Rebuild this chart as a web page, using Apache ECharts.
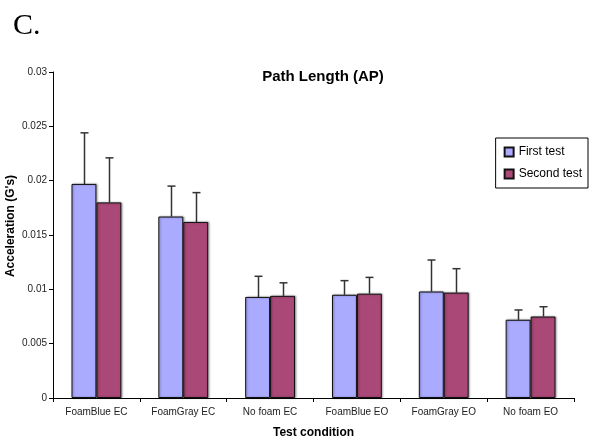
<!DOCTYPE html>
<html>
<head>
<meta charset="utf-8">
<script src="https://cdn.jsdelivr.net/npm/echarts@6/dist/echarts.min.js"></script>
<style>html,body{margin:0;padding:0;background:#fff;}#c{width:589px;height:439px;}</style>
</head>
<body>
<div id="c"></div>
<script>
var categories = ['FoamBlue EC', 'FoamGray EC', 'No foam EC', 'FoamBlue EO', 'FoamGray EO', 'No foam EO'];
var firstTest = [0.0197, 0.0167, 0.0093, 0.0095, 0.0098, 0.0072];
var secondTest = [0.0180, 0.0162, 0.0094, 0.0096, 0.0097, 0.0075];
var firstErrTop = [0.0244, 0.0195, 0.0112, 0.0108, 0.0127, 0.0081];
var secondErrTop = [0.0221, 0.0189, 0.0106, 0.0111, 0.0119, 0.0084];
var yTicks = [0, 0.005, 0.01, 0.015, 0.02, 0.025, 0.03];

var BAR_FRAC = 0.287;
function errSeries(name, vals, tops, side) {
  return {
    type: 'custom', name: name + ' err', silent: true, z: 1,
    data: vals.map(function (v, i) { return [i, v, tops[i]]; }),
    renderItem: function (params, api) {
      var band = api.size([1, 0])[0];
      var off = side * band * BAR_FRAC / 2;
      var b = api.coord([api.value(0), api.value(1)]);
      var t = api.coord([api.value(0), api.value(2)]);
      var x = Math.round(b[0] + off) + 0.5;
      return {
        type: 'group', children: [
          { type: 'line', shape: { x1: x, y1: b[1], x2: x, y2: t[1] }, style: { stroke: '#333', lineWidth: 1.5 } },
          { type: 'line', shape: { x1: x - 4, y1: t[1], x2: x + 4, y2: t[1] }, style: { stroke: '#333', lineWidth: 1.5 } }
        ]
      };
    }
  };
}

var chart = echarts.init(document.getElementById('c'));
chart.setOption({
  animation: false,
  backgroundColor: '#fff',
  title: [
    { text: 'C.', left: 8, top: 6, textStyle: { fontFamily: 'Liberation Serif', fontSize: 30, fontWeight: 'normal', color: '#000' } },
    { text: 'Path Length (AP)', left: 318, textAlign: 'center', top: 64, textStyle: { fontFamily: 'Liberation Sans', fontSize: 15, fontWeight: 'bold', color: '#000' } }
  ],
  legend: {
    orient: 'vertical', right: 1, top: 138,
    data: ['First test', 'Second test'],
    itemWidth: 9, itemHeight: 9, itemGap: 10,
    padding: [8, 6, 8, 8],
    borderColor: '#000', borderWidth: 1,
    icon: 'rect',
    textStyle: { fontFamily: 'Liberation Sans', fontSize: 12, color: '#000' }
  },
  grid: { left: 53, right: 15, top: 72, bottom: 41, outerBoundsMode: 'none', containLabel: false },
  xAxis: {
    type: 'category', data: categories,
    name: 'Test condition', nameLocation: 'middle', nameGap: 29, nameMoveOverlap: false,
    nameTextStyle: { fontFamily: 'Liberation Sans', fontSize: 12, fontWeight: 'bold', color: '#000' },
    axisLine: { lineStyle: { color: '#000', width: 1 } },
    axisTick: { show: true, length: 4, lineStyle: { color: '#000' } },
    axisLabel: { fontFamily: 'Liberation Sans', fontSize: 10, color: '#222', margin: 9 }
  },
  yAxis: {
    type: 'value', min: 0, max: 0.03, interval: 0.005,
    name: 'Acceleration (G\'s)', nameLocation: 'middle', nameGap: 36, nameMoveOverlap: false,
    nameTextStyle: { fontFamily: 'Liberation Sans', fontSize: 12, fontWeight: 'bold', color: '#000', padding: [0, 0, 0, 18] },
    axisLine: { show: true, lineStyle: { color: '#000', width: 1 } },
    axisTick: { show: true, length: 4, lineStyle: { color: '#000' } },
    splitLine: { show: false },
    axisLabel: { fontFamily: 'Liberation Sans', fontSize: 10, color: '#222', margin: 6,
      formatter: function (v) { for (var i = 0; i < yTicks.length; i++) { if (Math.abs(yTicks[i] - v) < 1e-9) return String(yTicks[i]); } return ''; } }
  },
  series: [
    { name: 'First test', type: 'bar', data: firstTest, barWidth: (BAR_FRAC * 100) + '%', barGap: '0%', z: 2,
      itemStyle: { color: '#aaaaff', borderColor: '#111', borderWidth: 1, shadowColor: 'rgba(0,0,0,0.35)', shadowBlur: 2, shadowOffsetX: 1, shadowOffsetY: 0 } },
    { name: 'Second test', type: 'bar', data: secondTest, barWidth: (BAR_FRAC * 100) + '%', barGap: '0%', z: 2,
      itemStyle: { color: '#aa4877', borderColor: '#111', borderWidth: 1, shadowColor: 'rgba(0,0,0,0.35)', shadowBlur: 2, shadowOffsetX: 1, shadowOffsetY: 0 } },
    errSeries('First test', firstTest, firstErrTop, -1),
    errSeries('Second test', secondTest, secondErrTop, 1)
  ]
});
</script>
</body>
</html>
